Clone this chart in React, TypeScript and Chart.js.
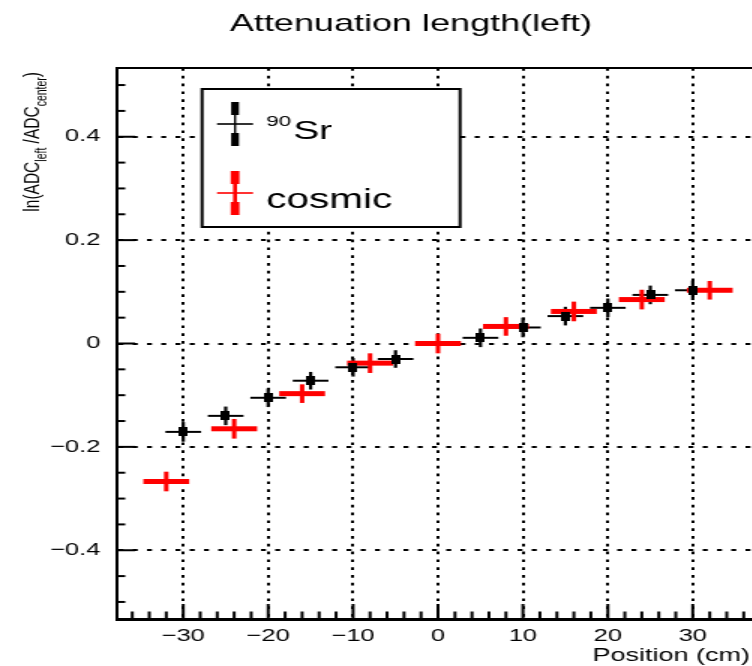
import React, { useEffect, useRef } from "react";
import { Chart, registerables } from "chart.js";

Chart.register(...registerables);

// ---- data ----
const srX = [-30, -25, -20, -15, -10, -5, 5, 10, 15, 20, 25, 30];
const srY = [-0.171, -0.140, -0.105, -0.072, -0.046, -0.030, 0.011, 0.031, 0.053, 0.069, 0.094, 0.103];
const srYErr = [0.019, 0.018, 0.018, 0.017, 0.018, 0.017, 0.018, 0.019, 0.018, 0.018, 0.018, 0.019];
const srXErr = [2.1, 2.1, 2.1, 2.1, 2.1, 2.1, 2.1, 2.1, 2.1, 2.1, 2.1, 2.1];

const cosmicX = [-32, -24, -16, -8, 0, 8, 16, 24, 32];
const cosmicY = [-0.267, -0.165, -0.097, -0.038, 0.0, 0.033, 0.062, 0.085, 0.103];
const cosmicYErr = [0.019, 0.019, 0.018, 0.019, 0.019, 0.018, 0.019, 0.019, 0.018];
const cosmicXErr = [2.7, 2.7, 2.7, 2.7, 2.7, 2.7, 2.7, 2.7, 2.7];

const xTickValues = [-30, -20, -10, 0, 10, 20, 30];
const xTickLabels = ["\u221230", "\u221220", "\u221210", "0", "10", "20", "30"];
const yTickValues = [-0.4, -0.2, 0, 0.2, 0.4];
const yTickLabels = ["\u22120.4", "\u22120.2", "0", "0.2", "0.4"];

const TITLE = "Attenuation length(left)";
const X_TITLE = "Position (cm)";
const SERIES_LABELS = ["Sr", "cosmic"];

// ---- layout ----
const S = 1.5; // horizontal stretch of the whole picture
const W = 520;
const H = 666;
const AREA = { left: 78, top: 68, right: 506, bottom: 619 };
const X_MIN = -37.8, X_MAX = 37.8;
const Y_MIN = -0.533, Y_MAX = 0.533;
const FONT = "'Liberation Sans', Arial, Helvetica, sans-serif";

const errorBarPlugin = {
  id: "errorBars",
  beforeDatasetsDraw(chart: any) {
    const { ctx } = chart;
    const xs = chart.scales.x, ys = chart.scales.y;
    chart.data.datasets.forEach((ds: any) => {
      ctx.save();
      ctx.strokeStyle = ds.errColor;
      ctx.lineCap = "butt";
      ds.data.forEach((p: any, i: number) => {
        const px = xs.getPixelForValue(p.x);
        const py = ys.getPixelForValue(p.y);
        const x1 = xs.getPixelForValue(p.x - ds.xErr[i]);
        const x2 = xs.getPixelForValue(p.x + ds.xErr[i]);
        const y1 = ys.getPixelForValue(p.y - ds.yErr[i]);
        const y2 = ys.getPixelForValue(p.y + ds.yErr[i]);
        ctx.lineWidth = ds.errWidthH;
        ctx.beginPath();
        ctx.moveTo(x1, py);
        ctx.lineTo(x2, py);
        ctx.stroke();
        ctx.lineWidth = ds.errWidthV;
        ctx.beginPath();
        ctx.moveTo(px, y1);
        ctx.lineTo(px, y2);
        ctx.stroke();
      });
      ctx.restore();
    });
  },
};

const framePlugin = {
  id: "rootFrame",
  afterDraw(chart: any) {
    const { ctx, chartArea: a } = chart;
    const xs = chart.scales.x, ys = chart.scales.y;
    ctx.save();
    ctx.strokeStyle = "#000";
    ctx.lineWidth = 2;
    ctx.beginPath();
    ctx.moveTo(a.left, a.top);
    ctx.lineTo(a.right, a.top);
    ctx.lineTo(a.right, a.bottom);
    ctx.stroke();
    ctx.lineWidth = 2;
    for (let v = Math.ceil(X_MIN / 2) * 2; v <= X_MAX; v += 2) {
      const major = v % 10 === 0;
      const px = xs.getPixelForValue(v);
      ctx.beginPath();
      ctx.moveTo(px, a.bottom);
      ctx.lineTo(px, a.bottom - (major ? 15 : 7.5));
      ctx.stroke();
    }
    for (let k = Math.ceil(Y_MIN / 0.05); k * 0.05 <= Y_MAX; k++) {
      const major = k % 4 === 0;
      const py = ys.getPixelForValue(k * 0.05);
      ctx.beginPath();
      ctx.moveTo(a.left, py);
      ctx.lineTo(a.left + (major ? 12 : 5.5), py);
      ctx.stroke();
    }
    ctx.restore();
  },
};

const textPlugin = {
  id: "rootText",
  afterDraw(chart: any) {
    const { ctx } = chart;
    ctx.save();
    ctx.fillStyle = "#000";
    ctx.textBaseline = "alphabetic";
    ctx.font = `24px ${FONT}`;
    ctx.textAlign = "center";
    ctx.fillText(TITLE, 274, 31);
    ctx.font = `18px ${FONT}`;
    ctx.textAlign = "right";
    ctx.fillText(X_TITLE, 500, 661);
    // y title (rotated)
    const parts: [string, boolean][] = [
      ["ln(ADC", false],
      ["left", true],
      [" /ADC", false],
      ["center", true],
      [")", false],
    ];
    const mainF = `15.5px ${FONT}`, subF = `10.5px ${FONT}`;
    let total = 0;
    parts.forEach(([t, sub]) => {
      ctx.font = sub ? subF : mainF;
      total += ctx.measureText(t).width;
    });
    ctx.translate(26, 72 + total);
    ctx.rotate(-Math.PI / 2);
    ctx.textAlign = "left";
    let cx = 0;
    parts.forEach(([t, sub]) => {
      ctx.font = sub ? subF : mainF;
      ctx.fillText(t, cx, sub ? 5 : 0);
      cx += ctx.measureText(t).width;
    });
    ctx.restore();

    // legend
    ctx.save();
    const bx = 134.7, by = 89, bw = 172, bh = 138;
    ctx.fillStyle = "#fff";
    ctx.fillRect(bx, by, bw, bh);
    ctx.strokeStyle = "#000";
    ctx.lineWidth = 2;
    ctx.strokeRect(bx, by, bw, bh);

    const drawEntry = (cx0: number, cy0: number, color: string, thin: number, thick: number, hw: number) => {
      ctx.strokeStyle = color;
      ctx.fillStyle = color;
      ctx.lineWidth = hw;
      ctx.beginPath();
      ctx.moveTo(cx0 - 12, cy0);
      ctx.lineTo(cx0 + 12, cy0);
      ctx.stroke();
      ctx.lineWidth = thin;
      ctx.beginPath();
      ctx.moveTo(cx0, cy0 - 22);
      ctx.lineTo(cx0, cy0 + 22);
      ctx.stroke();
      ctx.fillRect(cx0 - thick / 2, cy0 - 22, thick, 13);
      ctx.fillRect(cx0 - thick / 2, cy0 + 9, thick, 13);
    };
    drawEntry(156.7, 124, "#000", 1.4, 5.2, 1.6);
    drawEntry(156.7, 193, "#ff0000", 2.6, 5.8, 1.6);

    ctx.fillStyle = "#000";
    ctx.textAlign = "left";
    ctx.font = `15px ${FONT}`;
    ctx.fillText("90", 177.5, 126);
    ctx.font = `26px ${FONT}`;
    ctx.fillText(SERIES_LABELS[0], 195.5, 139);
    ctx.font = `27px ${FONT}`;
    ctx.fillText(SERIES_LABELS[1], 177.5, 208);
    ctx.restore();
  },
};

export default function App() {
  const ref = useRef<HTMLCanvasElement>(null);
  useEffect(() => {
    const canvas = ref.current!;
    const marker = document.createElement("canvas");
    marker.width = 6;
    marker.height = 9;
    const mctx = marker.getContext("2d")!;
    mctx.fillStyle = "#000";
    mctx.fillRect(0, 0, 6, 9);

    const chart = new Chart(canvas, {
      type: "scatter",
      data: {
        datasets: [
          {
            label: "90Sr",
            data: srX.map((x, i) => ({ x, y: srY[i] })),
            pointStyle: marker as any,
            pointRadius: 4,
            showLine: false,
            xErr: srXErr,
            yErr: srYErr,
            errColor: "#000",
            errWidthH: 2,
            errWidthV: 2.2,
          } as any,
          {
            label: "cosmic",
            data: cosmicX.map((x, i) => ({ x, y: cosmicY[i] })),
            pointRadius: 0,
            showLine: false,
            xErr: cosmicXErr,
            yErr: cosmicYErr,
            errColor: "#ff0000",
            errWidthH: 5,
            errWidthV: 3,
          } as any,
        ],
      },
      options: {
        responsive: false,
        animation: false,
        events: [],
        layout: { padding: { left: 0, right: W - AREA.right, top: AREA.top, bottom: 0 } },
        plugins: {
          legend: { display: false },
          title: { display: false },
          tooltip: { enabled: false },
        },
        scales: {
          x: {
            type: "linear",
            position: "bottom",
            min: X_MIN,
            max: X_MAX,
            afterFit: (s: any) => {
              s.height = H - AREA.bottom;
            },
            afterBuildTicks: (s: any) => {
              s.ticks = xTickValues.map((v) => ({ value: v }));
            },
            ticks: {
              autoSkip: false,
              maxRotation: 0,
              padding: 7,
              color: "#000",
              font: { family: FONT, size: 17 },
              callback: (_v: any, i: number) => xTickLabels[i],
            },
            grid: { color: "#000", lineWidth: 2, drawTicks: false },
            border: { display: true, color: "#000", width: 3, dash: [2.7, 5.1] },
          },
          y: {
            type: "linear",
            min: Y_MIN,
            max: Y_MAX,
            afterFit: (s: any) => {
              s.width = AREA.left;
            },
            afterBuildTicks: (s: any) => {
              s.ticks = yTickValues.map((v) => ({ value: v }));
            },
            ticks: {
              autoSkip: false,
              padding: 11,
              color: "#000",
              font: { family: FONT, size: 17 },
              callback: (_v: any, i: number) => yTickLabels[i],
            },
            grid: { color: "#000", lineWidth: 2, drawTicks: false },
            border: { display: true, color: "#000", width: 2, dash: [3.3, 6.2] },
          },
        },
      } as any,
      plugins: [errorBarPlugin, framePlugin, textPlugin],
    });
    return () => chart.destroy();
  }, []);

  return (
    <div
      style={{
        position: "absolute",
        left: 0,
        top: 0,
        width: 752,
        height: 666,
        overflow: "hidden",
        background: "#fff",
      }}
    >
      <div
        style={{
          width: W,
          height: H,
          transform: `scaleX(${S})`,
          transformOrigin: "0 0",
        }}
      >
        <canvas ref={ref} width={W} height={H} style={{ display: "block" }} />
      </div>
    </div>
  );
}
